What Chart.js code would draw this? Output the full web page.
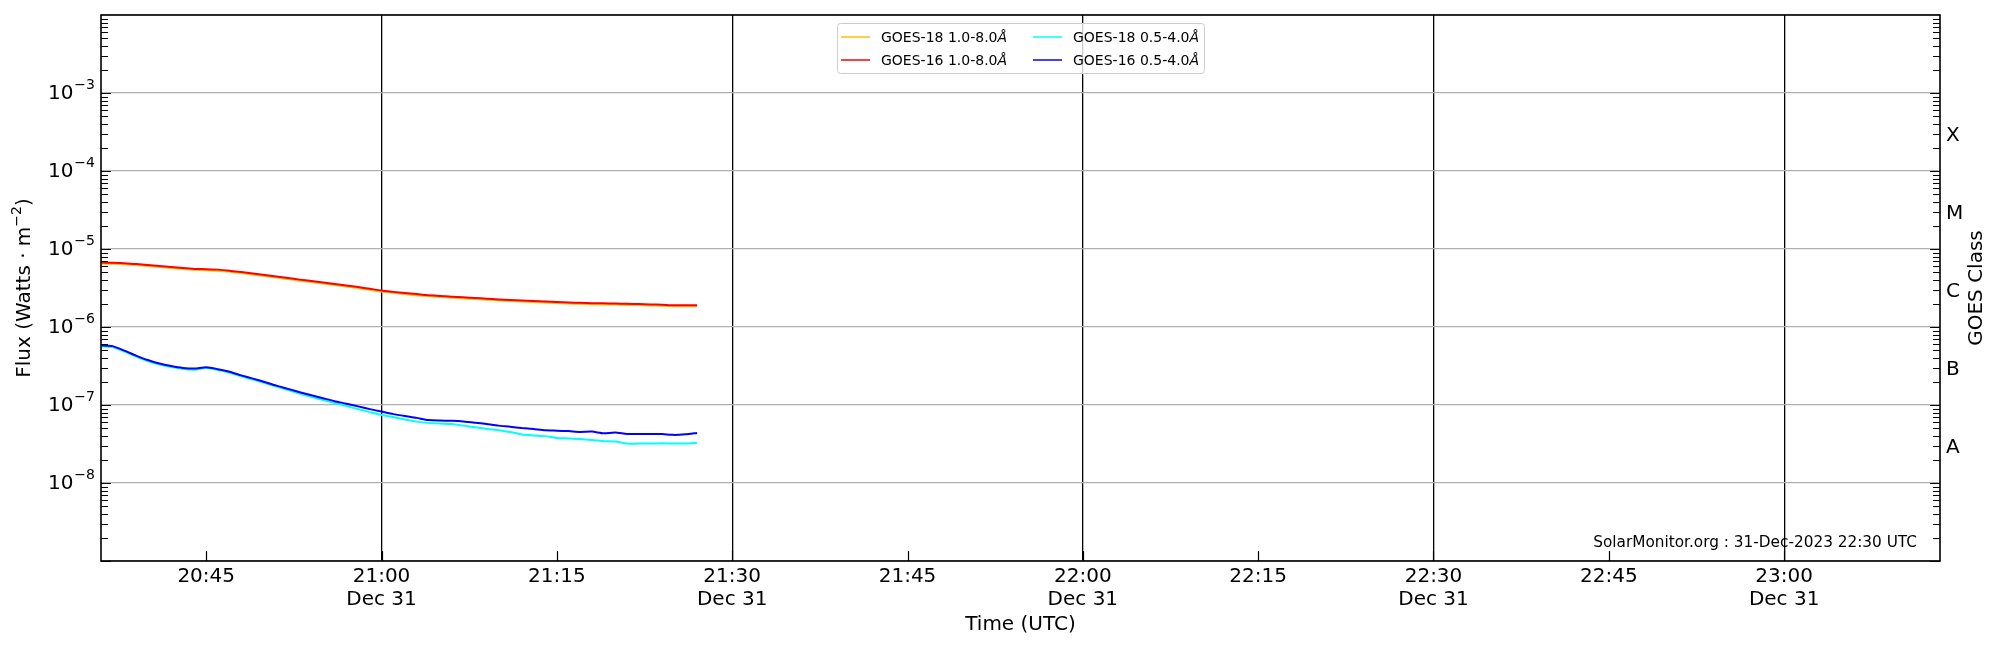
<!DOCTYPE html>
<html lang="en">
<head>
  <meta charset="UTF-8" />
  <title>GOES X-ray Flux</title>
  <script src="https://cdn.jsdelivr.net/npm/chart.js@4"></script>
  <style>
    body { margin: 0; background: #fff; }
    #wrap { width: 2000px; height: 650px; }
  </style>
</head>
<body>
  <div id="wrap"><canvas id="goesChart" width="2000" height="650"></canvas></div>

  <script>
    // --- data (1-minute samples) ---
    const times = [
      '20:36','20:37','20:38','20:39','20:40','20:41','20:42','20:43','20:44','20:45',
      '20:46','20:47','20:48','20:49','20:50','20:51','20:52','20:53','20:54','20:55',
      '20:56','20:57','20:58','20:59','21:00','21:01','21:02','21:03','21:04','21:05',
      '21:06','21:07','21:08','21:09','21:10','21:11','21:12','21:13','21:14','21:15',
      '21:16','21:17','21:18','21:19','21:20','21:21','21:22','21:23','21:24','21:25',
      '21:26','21:27'
    ];
    const goes18Long = [
      6.50e-6,6.46e-6,6.39e-6,6.22e-6,6.04e-6,5.87e-6,5.69e-6,5.53e-6,5.40e-6,5.35e-6,
      5.28e-6,5.13e-6,4.91e-6,4.70e-6,4.50e-6,4.30e-6,4.12e-6,3.93e-6,3.77e-6,3.60e-6,
      3.45e-6,3.30e-6,3.16e-6,3.00e-6,2.85e-6,2.74e-6,2.64e-6,2.56e-6,2.49e-6,2.43e-6,
      2.38e-6,2.33e-6,2.29e-6,2.24e-6,2.20e-6,2.15e-6,2.12e-6,2.09e-6,2.06e-6,2.03e-6,
      2.00e-6,1.98e-6,1.96e-6,1.95e-6,1.94e-6,1.92e-6,1.91e-6,1.89e-6,1.87e-6,1.85e-6,
      1.84e-6,1.84e-6
    ];
    const goes16Long = [
      6.69e-6,6.65e-6,6.58e-6,6.40e-6,6.22e-6,6.04e-6,5.86e-6,5.69e-6,5.56e-6,5.51e-6,
      5.44e-6,5.28e-6,5.06e-6,4.84e-6,4.63e-6,4.43e-6,4.24e-6,4.05e-6,3.88e-6,3.71e-6,
      3.55e-6,3.40e-6,3.25e-6,3.09e-6,2.93e-6,2.82e-6,2.72e-6,2.64e-6,2.56e-6,2.50e-6,
      2.45e-6,2.40e-6,2.36e-6,2.31e-6,2.26e-6,2.22e-6,2.18e-6,2.15e-6,2.12e-6,2.09e-6,
      2.06e-6,2.04e-6,2.02e-6,2.01e-6,2.00e-6,1.98e-6,1.97e-6,1.95e-6,1.93e-6,1.90e-6,
      1.90e-6,1.90e-6
    ];
    const goes18Short = [
      5.66e-7,5.52e-7,4.84e-7,4.18e-7,3.66e-7,3.30e-7,3.06e-7,2.90e-7,2.84e-7,2.97e-7,
      2.80e-7,2.59e-7,2.33e-7,2.12e-7,1.91e-7,1.72e-7,1.55e-7,1.40e-7,1.27e-7,1.16e-7,
      1.06e-7,9.68e-8,8.86e-8,8.11e-8,7.43e-8,7.00e-8,6.50e-8,6.12e-8,5.90e-8,5.78e-8,
      5.69e-8,5.44e-8,5.18e-8,4.94e-8,4.74e-8,4.50e-8,4.18e-8,4.07e-8,3.99e-8,3.78e-8,
      3.73e-8,3.67e-8,3.55e-8,3.44e-8,3.40e-8,3.20e-8,3.20e-8,3.20e-8,3.23e-8,3.20e-8,
      3.22e-8,3.27e-8
    ];
    const goes16Short = [
      5.82e-7,5.69e-7,4.98e-7,4.30e-7,3.77e-7,3.40e-7,3.16e-7,2.99e-7,2.93e-7,3.04e-7,
      2.88e-7,2.67e-7,2.40e-7,2.18e-7,1.97e-7,1.77e-7,1.61e-7,1.46e-7,1.33e-7,1.22e-7,
      1.12e-7,1.04e-7,9.60e-8,8.86e-8,8.23e-8,7.64e-8,7.21e-8,6.84e-8,6.40e-8,6.31e-8,
      6.27e-8,6.16e-8,5.94e-8,5.69e-8,5.44e-8,5.26e-8,5.06e-8,4.91e-8,4.74e-8,4.69e-8,
      4.63e-8,4.52e-8,4.56e-8,4.34e-8,4.43e-8,4.26e-8,4.26e-8,4.26e-8,4.24e-8,4.14e-8,
      4.21e-8,4.39e-8
    ];

    const xStart = '20:36:00';
    const xEnd = '23:13:20';
    const xTicks = ['20:45','21:00','21:15','21:30','21:45','22:00','22:15','22:30','22:45','23:00'];
    const xTickDate = 'Dec 31';
    const yDecades = [-9, -8, -7, -6, -5, -4, -3, -2];
    const yLabelExps = [-8, -7, -6, -5, -4, -3];
    const goesClasses = ['A', 'B', 'C', 'M', 'X'];
    const goesClassExps = [-7.5, -6.5, -5.5, -4.5, -3.5];
    const legendItems = [
      { label: 'GOES-18 1.0-8.0', color: '#ffc000' },
      { label: 'GOES-16 1.0-8.0', color: '#ff0000' },
      { label: 'GOES-18 0.5-4.0', color: '#00ffff' },
      { label: 'GOES-16 0.5-4.0', color: '#0000ff' }
    ];
    const stamp = 'SolarMonitor.org : 31-Dec-2023 22:30 UTC';

    const FONT = '"DejaVu Sans", sans-serif';

    function toMin(s) {
      const p = s.split(':').map(Number);
      return p[0] * 60 + p[1] + (p[2] || 0) / 60;
    }
    const pts = arr => arr.map((v, i) => ({ x: toMin(times[i]), y: v }));

    function series(label, data, color, order) {
      return {
        label, data: pts(data), borderColor: color, backgroundColor: color,
        borderWidth: 2, pointRadius: 0, tension: 0.2, order
      };
    }

    // ticks pointing into the plot, labels, frame, legend, stamp
    const decorations = {
      id: 'decorations',
      afterDraw(chart) {
        const ctx = chart.ctx;
        const a = chart.chartArea;
        const xs = chart.scales.x, ys = chart.scales.y;
        ctx.save();
        ctx.strokeStyle = '#000';
        ctx.fillStyle = '#000';

        // y ticks, both sides
        ctx.lineWidth = 1.2;
        for (let e = -9; e < -2; e++) {
          for (let k = 1; k <= 9; k++) {
            const y = Math.round(ys.getPixelForValue(k * Math.pow(10, e))) + 0.5;
            const len = k === 1 ? 10 : 7;
            ctx.beginPath();
            ctx.moveTo(a.left, y); ctx.lineTo(a.left + len, y);
            ctx.moveTo(a.right, y); ctx.lineTo(a.right - len, y);
            ctx.stroke();
          }
        }
        // x ticks
        xTicks.forEach(t => {
          const x = Math.round(xs.getPixelForValue(toMin(t))) + 0.5;
          ctx.beginPath();
          ctx.moveTo(x, a.bottom); ctx.lineTo(x, a.bottom - 10);
          ctx.stroke();
        });

        // frame
        ctx.lineWidth = 1.6;
        ctx.strokeRect(a.left, a.top, a.right - a.left, a.bottom - a.top);

        // y tick labels 10^n
        yLabelExps.forEach(e => {
          const y = ys.getPixelForValue(Math.pow(10, e));
          const sup = '\u2212' + Math.abs(e);
          ctx.font = '14px ' + FONT;
          const w2 = ctx.measureText(sup).width;
          ctx.font = '20px ' + FONT;
          const w1 = ctx.measureText('10').width;
          const right = a.left - 6;
          ctx.textAlign = 'left';
          ctx.textBaseline = 'middle';
          ctx.fillText('10', right - w2 - w1 - 1, y + 1);
          ctx.font = '14px ' + FONT;
          ctx.fillText(sup, right - w2, y - 8);
        });

        // GOES class labels on the right
        ctx.font = '20px ' + FONT;
        ctx.textAlign = 'left';
        ctx.textBaseline = 'middle';
        goesClasses.forEach((c, i) => {
          ctx.fillText(c, a.right + 6, ys.getPixelForValue(Math.pow(10, goesClassExps[i])) + 4);
        });

        // x tick labels
        ctx.textAlign = 'center';
        xTicks.forEach(t => {
          const x = xs.getPixelForValue(toMin(t));
          ctx.fillText(t, x, a.bottom + 16);
          if (t.endsWith(':00') || t.endsWith(':30')) ctx.fillText(xTickDate, x, a.bottom + 39);
        });

        // axis titles
        ctx.fillText('Time (UTC)', (a.left + a.right) / 2, a.bottom + 64);

        const midY = (a.top + a.bottom) / 2;
        ctx.save();
        ctx.translate(25, midY);
        ctx.rotate(-Math.PI / 2);
        const t1 = 'Flux (Watts \u00b7 m', t2 = '\u22122', t3 = ')';
        ctx.font = '20px ' + FONT;
        const wa = ctx.measureText(t1).width, wc = ctx.measureText(t3).width;
        ctx.font = '14px ' + FONT;
        const wb = ctx.measureText(t2).width;
        let x0 = -(wa + wb + wc) / 2;
        ctx.textAlign = 'left';
        ctx.font = '20px ' + FONT;
        ctx.fillText(t1, x0, 0);
        ctx.font = '14px ' + FONT;
        ctx.fillText(t2, x0 + wa, -8);
        ctx.font = '20px ' + FONT;
        ctx.fillText(t3, x0 + wa + wb, 0);
        ctx.restore();

        ctx.save();
        ctx.translate(1977, midY);
        ctx.rotate(-Math.PI / 2);
        ctx.textAlign = 'center';
        ctx.font = '20px ' + FONT;
        ctx.fillText('GOES Class', 0, 0);
        ctx.restore();

        // stamp
        ctx.font = '15.3px ' + FONT;
        ctx.textAlign = 'right';
        ctx.fillText(stamp, a.right - 23, a.bottom - 18);

        // legend, two columns
        const lx = 837, ly = 23, lw = 367, lh = 50;
        ctx.beginPath();
        ctx.roundRect(lx + 0.5, ly + 0.5, lw, lh, 3);
        ctx.fillStyle = 'rgba(255,255,255,0.8)';
        ctx.fill();
        ctx.strokeStyle = '#cccccc';
        ctx.lineWidth = 1;
        ctx.stroke();
        ctx.textAlign = 'left';
        ctx.textBaseline = 'middle';
        legendItems.forEach((it, i) => {
          const col = Math.floor(i / 2), row = i % 2;
          const x = col === 0 ? 841 : 1033;
          const y = row === 0 ? 37 : 60;
          ctx.strokeStyle = it.color;
          ctx.lineWidth = 1.5;
          ctx.beginPath();
          ctx.moveTo(x, y); ctx.lineTo(x + 29, y);
          ctx.stroke();
          ctx.fillStyle = '#000';
          ctx.font = '14px ' + FONT;
          ctx.fillText(it.label, x + 40, y + 1);
          const w = ctx.measureText(it.label).width;
          ctx.font = 'italic 14px ' + FONT;
          ctx.fillText('Å', x + 40 + w, y + 1);
        });

        ctx.restore();
      }
    };

    new Chart(document.getElementById('goesChart'), {
      type: 'line',
      data: {
        datasets: [
          series('GOES-18 1.0-8.0Å', goes18Long, '#ffc000', 4),
          series('GOES-16 1.0-8.0Å', goes16Long, '#ff0000', 3),
          series('GOES-18 0.5-4.0Å', goes18Short, '#00ffff', 2),
          series('GOES-16 0.5-4.0Å', goes16Short, '#0000ff', 1)
        ]
      },
      options: {
        responsive: false,
        animation: false,
        devicePixelRatio: 1,
        layout: { padding: { left: 101, right: 60, top: 15, bottom: 89 } },
        plugins: { legend: { display: false }, tooltip: { enabled: false } },
        scales: {
          x: {
            type: 'linear',
            min: toMin(xStart),
            max: toMin(xEnd),
            afterBuildTicks: s => { s.ticks = xTicks.map(t => ({ value: toMin(t) })); },
            afterFit: s => { s.height = 0; },
            ticks: { display: false },
            border: { display: false },
            grid: {
              drawTicks: false,
              lineWidth: 1.3,
              color: c => (c.tick && c.tick.value % 30 === 0) ? '#000' : 'rgba(0,0,0,0)'
            }
          },
          y: {
            type: 'logarithmic',
            min: 1e-9,
            max: 1e-2,
            afterBuildTicks: s => { s.ticks = yDecades.map(e => ({ value: Math.pow(10, e) })); },
            afterFit: s => { s.width = 0; },
            ticks: { display: false },
            border: { display: false },
            grid: { drawTicks: false, lineWidth: 1.2, color: '#b0b0b0' }
          }
        }
      },
      plugins: [decorations]
    });
  </script>
</body>
</html>
